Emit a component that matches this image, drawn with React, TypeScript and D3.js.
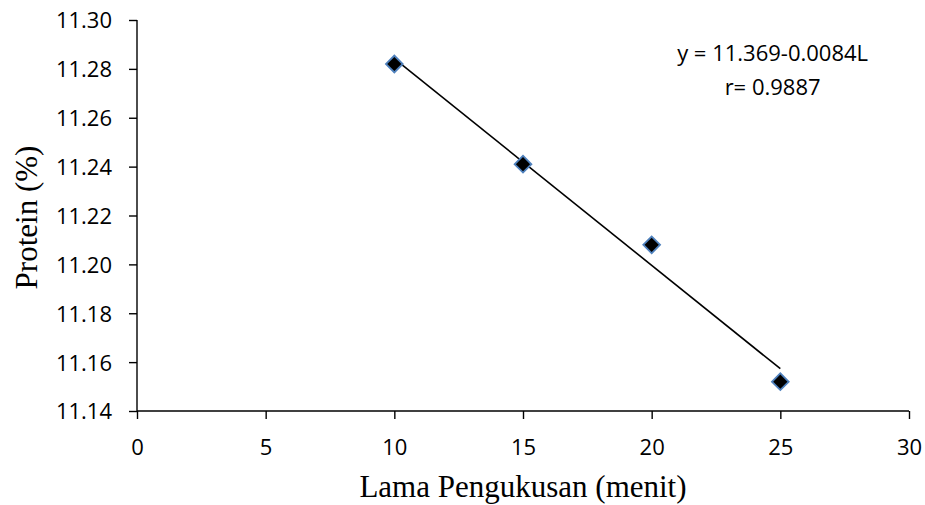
import React, { useEffect, useRef } from 'react';
import * as d3 from 'd3';

// Lama pengukusan (menit) vs protein (%)
const steamTimes = [10, 15, 20, 25];
const proteinValues = [11.282, 11.241, 11.208, 11.152];
const xTicks = [0, 5, 10, 15, 20, 25, 30];
const yTicks = [11.14, 11.16, 11.18, 11.2, 11.22, 11.24, 11.26, 11.28, 11.3];
const equationLines = ['y = 11.369-0.0084L', 'r= 0.9887'];

const ProteinChart = () => {
    const d3Container = useRef<SVGSVGElement | null>(null);

    useEffect(() => {
        if (!d3Container.current) return;
        const svg = d3.select(d3Container.current);
        svg.selectAll('*').remove();

        const margin = { top: 20, right: 16, bottom: 94, left: 137 };
        const width = 925 - margin.left - margin.right;
        const height = 505 - margin.top - margin.bottom;

        const x = d3.scaleLinear().domain([0, 30]).range([0, width]);
        const y = d3.scaleLinear().domain([11.14, 11.3]).range([height, 0]);

        const g = svg.append('g')
            .attr('transform', `translate(${margin.left},${margin.top})`);

        const tickFont = '"Open Sans", sans-serif';

        const xAxis = g.append('g')
            .attr('transform', `translate(0,${height})`)
            .call(d3.axisBottom(x).tickValues(xTicks).tickSize(8).tickPadding(20).tickFormat(d3.format('d')));

        const yAxis = g.append('g')
            .call(d3.axisLeft(y).tickValues(yTicks).tickSize(8).tickPadding(17).tickFormat(d3.format('.2f')));

        [xAxis, yAxis].forEach(a => {
            a.selectAll('.domain').attr('stroke', '#000').attr('stroke-width', 1.4);
            a.selectAll('.tick line').attr('stroke', '#000').attr('stroke-width', 1.4);
            a.selectAll('.tick text')
                .attr('fill', '#000')
                .style('font-family', tickFont)
                .style('font-size', '22px');
        });
        // keep the axis lines flush, without the outer end caps
        xAxis.select('.domain').attr('d', `M0,0H${width}`);
        yAxis.select('.domain').attr('d', `M0,${height}V0`);
        yAxis.selectAll('.tick text').attr('dy', '0.36em');

        // least squares fit over the data
        const xm = d3.mean(steamTimes)!;
        const ym = d3.mean(proteinValues)!;
        const sxy = d3.sum(steamTimes, (t, i) => (t - xm) * (proteinValues[i] - ym));
        const sxx = d3.sum(steamTimes, t => (t - xm) ** 2);
        const slope = sxy / sxx;
        const intercept = ym - slope * xm;
        const fitExtent = d3.extent(steamTimes) as [number, number];

        g.append('path')
            .datum(fitExtent)
            .attr('fill', 'none')
            .attr('stroke', '#000')
            .attr('stroke-width', 1.6)
            .attr('d', d3.line<number>()
                .x(d => x(d))
                .y(d => y(intercept + slope * d)));

        const diamond = d3.symbol().type(d3.symbolSquare).size(140);
        g.selectAll('.pt')
            .data(steamTimes)
            .enter()
            .append('path')
            .attr('class', 'pt')
            .attr('d', diamond)
            .attr('transform', (d, i) => `translate(${x(d)},${y(proteinValues[i])}) rotate(45)`)
            .attr('fill', '#000')
            .attr('stroke', '#4f81bd')
            .attr('stroke-width', 1.8);

        g.append('text')
            .attr('x', x(24.7))
            .attr('y', 41)
            .attr('text-anchor', 'middle')
            .style('font-family', tickFont)
            .style('font-size', '22px')
            .selectAll('tspan')
            .data(equationLines)
            .enter()
            .append('tspan')
            .attr('x', x(24.7))
            .attr('dy', (d, i) => (i === 0 ? 0 : 34))
            .text(d => d);

        const titleFont = '"Liberation Serif", "Times New Roman", serif';

        svg.append('text')
            .attr('x', margin.left + width / 2)
            .attr('y', 497)
            .attr('text-anchor', 'middle')
            .style('font-family', titleFont)
            .style('font-size', '31px')
            .text('Lama Pengukusan (menit)');

        svg.append('text')
            .attr('transform', `translate(37,${margin.top + height / 2 + 2}) rotate(-90)`)
            .attr('text-anchor', 'middle')
            .style('font-family', titleFont)
            .style('font-size', '31px')
            .text('Protein (%)');
    }, []);

    return (
        <svg
            ref={d3Container}
            width={925}
            height={505}
            style={{ position: 'absolute', left: 0, top: 0, background: '#fff' }}
        />
    );
};

export default function App() {
    return <ProteinChart />;
}
